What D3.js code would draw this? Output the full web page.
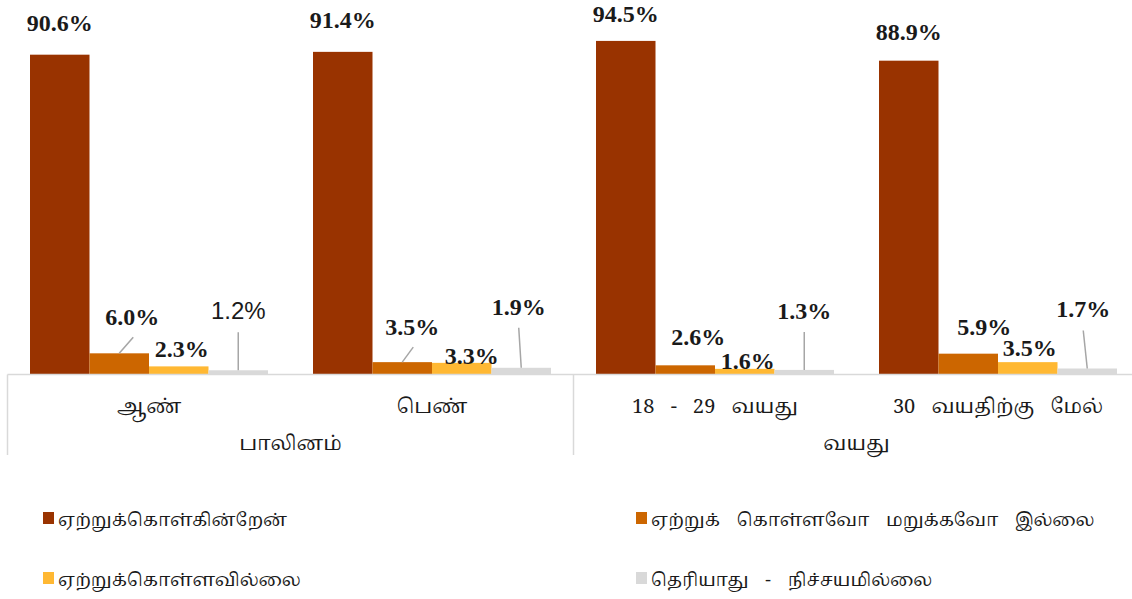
<!DOCTYPE html>
<html>
<head>
<meta charset="utf-8">
<script src="https://cdn.jsdelivr.net/npm/d3@7"></script>
<style>
  html, body { margin: 0; padding: 0; background: #fff; }
  svg { display: block; }
</style>
</head>
<body>
<svg id="chart" width="1132" height="599"></svg>
<script>
// Categories along the axis and their grouping
const categories = ["ஆண்", "பெண்", "18 - 29 வயது", "30 வயதிற்கு மேல்"];
const groupNames = ["பாலினம்", "வயது"];
const groupSpans = [2, 2];

// Response series (percent)
const seriesNames = [
  "ஏற்றுக்கொள்கின்றேன்",
  "ஏற்றுக் கொள்ளவோ மறுக்கவோ இல்லை",
  "ஏற்றுக்கொள்ளவில்லை",
  "தெரியாது - நிச்சயமில்லை"
];
const agree    = [90.6, 91.4, 94.5, 88.9];
const neutral  = [6.0, 3.5, 2.6, 5.9];
const disagree = [2.3, 3.3, 1.6, 3.5];
const unsure   = [1.2, 1.9, 1.3, 1.7];
const seriesValues = [agree, neutral, disagree, unsure];

// Styling / layout
const colors = ["#993300", "#cc6600", "#ffb833", "#d9d9d9"];
const tamilFont = "Latha, 'Noto Serif Tamil', 'Noto Sans Tamil', 'Lohit Tamil', 'Noto Sans', sans-serif";
const numFont = "'Liberation Serif', 'Times New Roman', serif";

// label placement per [series][category]: [dx from bar centre, dy of baseline from bar top, leader?]
const labelPlace = [
  [[0, -24, 0], [0, -24, 0], [0, -19, 0], [0, -21, 0]],
  [[13, -28, 1], [10, -27, 1], [13, -20, 0], [16, -19, 0]],
  [[3, -9, 0], [10, 1, 0], [3, 0, 0], [2, -6, 0]],
  [[0, -51, 1], [-2.5, -53, 1], [0, -51, 1], [-4, -51, 1]]
];

const svg = d3.select("#chart");
const baseY = 374.5;
const plotLeft = 7.5, step = 283;

const x0 = d3.scaleBand().domain(categories)
  .range([plotLeft, plotLeft + step * categories.length]).padding(0);
const x1 = d3.scaleBand().domain(d3.range(seriesNames.length))
  .range([22.5, step - 22.5]).padding(0);
const y = d3.scaleLinear().domain([0, 100]).range([baseY, baseY - 353]);

// bars
const rows = [];
seriesValues.forEach((vals, s) => vals.forEach((v, c) => rows.push({s, c, v})));

svg.append("g").selectAll("rect").data(rows).join("rect")
  .attr("x", d => x0(categories[d.c]) + x1(d.s))
  .attr("width", x1.bandwidth())
  .attr("y", d => y(d.v))
  .attr("height", d => y(0) - y(d.v))
  .attr("fill", d => colors[d.s]);

// axis lines
const axisG = svg.append("g").attr("stroke", "#d9d9d9").attr("stroke-width", 1.5);
axisG.append("line").attr("x1", plotLeft).attr("x2", 1132).attr("y1", baseY).attr("y2", baseY);
let acc = 0;
const bounds = [0];
groupSpans.forEach(n => { acc += n; bounds.push(acc); });
bounds.forEach(b => {
  const xx = plotLeft + step * b;
  axisG.append("line").attr("x1", xx).attr("x2", xx).attr("y1", baseY).attr("y2", 455);
});

// category labels
svg.append("g").selectAll("text").data(categories).join("text")
  .attr("x", d => x0(d) + x0.bandwidth() / 2)
  .attr("y", 413)
  .attr("text-anchor", "middle")
  .attr("font-family", tamilFont)
  .attr("font-size", 20)
  .attr("word-spacing", 11)
  .attr("fill", "#1a1a1a")
  .text(d => d);

// group labels
svg.append("g").selectAll("text").data(groupNames).join("text")
  .attr("x", (d, i) => plotLeft + step * (bounds[i] + bounds[i + 1]) / 2)
  .attr("y", 450)
  .attr("text-anchor", "middle")
  .attr("font-family", tamilFont)
  .attr("font-size", 20)
  .attr("fill", "#1a1a1a")
  .text(d => d);

// value labels and leader lines
const lab = svg.append("g");
rows.forEach(d => {
  const p = labelPlace[d.s][d.c];
  const cx = x0(categories[d.c]) + x1(d.s) + x1.bandwidth() / 2;
  const top = y(d.v);
  const lx = cx + p[0], ly = top + p[1];
  if (p[2]) {
    const endY = d.s === 3 ? ly + 13 : ly + 12;
    const startX = d.s === 3 ? lx : lx + 1;
    lab.append("line")
      .attr("x1", startX).attr("y1", endY)
      .attr("x2", cx).attr("y2", top)
      .attr("stroke", "#a6a6a6").attr("stroke-width", 1.5);
  }
  const plainSans = d.s === 3 && d.c === 0;
  lab.append("text")
    .attr("x", lx).attr("y", ly)
    .attr("text-anchor", "middle")
    .attr("font-family", plainSans ? "'Liberation Sans', Arial, sans-serif" : numFont)
    .attr("font-weight", plainSans ? "normal" : "bold")
    .attr("font-size", 24)
    .attr("fill", "#1a1a1a")
    .text(d3.format(".1f")(d.v) + "%");
});

// legend
const legendPos = [[43, 519], [636, 519], [43, 579], [636, 579]];
const legendOrder = [0, 1, 2, 3];
const leg = svg.append("g").selectAll("g").data(legendOrder).join("g")
  .attr("transform", (d, i) => `translate(${legendPos[i][0]},${legendPos[i][1]})`);
leg.append("rect").attr("x", 0).attr("y", -7).attr("width", 11).attr("height", 12)
  .attr("fill", d => colors[d]);
leg.append("text").attr("x", 15).attr("y", 7)
  .attr("font-family", tamilFont).attr("font-size", 18)
  .attr("word-spacing", 12)
  .attr("fill", "#1a1a1a")
  .text(d => seriesNames[d]);
</script>
</body>
</html>
